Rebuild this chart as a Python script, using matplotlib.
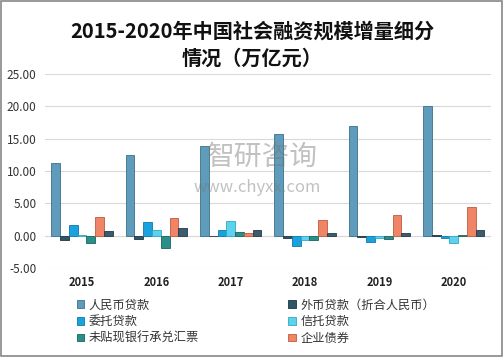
import matplotlib.pyplot as plt
import numpy as np

plt.rcParams['font.family'] = ['Noto Sans CJK SC', 'DejaVu Sans']

# data (万亿元)
years = ['2015', '2016', '2017', '2018', '2019', '2020']
rmb_loans = [11.27, 12.44, 13.84, 15.67, 16.88, 20.03]
fx_loans = [-0.64, -0.57, 0.00, -0.42, -0.13, 0.15]
entrusted = [1.59, 2.19, 0.81, -1.60, -0.94, -0.40]
trust = [0.04, 0.86, 2.26, -0.70, -0.35, -1.10]
bank_bills = [-1.06, -1.95, 0.54, -0.63, -0.48, 0.10]
bonds = [2.94, 2.78, 0.45, 2.48, 3.24, 4.45]
stocks = [0.76, 1.24, 0.87, 0.36, 0.35, 0.89]

series = [rmb_loans, fx_loans, entrusted, trust, bank_bills, bonds, stocks]
names = ['人民币贷款', '外币贷款（折合人民币）', '委托贷款', '信托贷款',
         '未贴现银行承兑汇票', '企业债券', None]
colors = ['#5f9cbb', '#2f5569', '#1aa2df', '#5cd3ee', '#2a8f88', '#ef8466', '#3d5b6f']
edges = ['#3e6f88', '#1d3644', '#0f78a8', '#34a7c2', '#1b625d', '#c05a3d', '#243a48']

fig = plt.figure(figsize=(5.04, 3.57), dpi=100)
ax = fig.add_axes([0.089, 0.249, 0.885, 0.544])

x = np.arange(len(years))
w = 0.118
handles = []
for i, vals in enumerate(series):
    b = ax.bar(x + (i - 3) * w, vals, w, color=colors[i], edgecolor=edges[i],
               linewidth=0.6, zorder=3)
    if names[i]:
        handles.append((b, names[i]))

ax.set_ylim(-5, 25)
ax.set_xlim(-0.5, 5.5)
ax.set_yticks(np.arange(-5, 26, 5))
ax.set_yticklabels(['%.2f' % v for v in np.arange(-5, 26, 5)], fontsize=8.5, color='#333333')
ax.set_xticks(x)
ax.set_xticklabels(years, fontsize=8, fontweight='bold', color='#222222')
ax.tick_params(length=0, pad=6)
ax.grid(axis='y', color='#d9d9d9', linewidth=0.8, zorder=0)
for s in ax.spines.values():
    s.set_visible(False)
ax.axhline(0, color='#d9d9d9', linewidth=0.8, zorder=1)

fig.text(0.5, 0.875, '2015-2020年中国社会融资规模增量细分\n情况（万亿元）',
         ha='center', va='center', fontsize=14.5, fontweight='bold',
         linespacing=1.35, color='#111111')

# watermark
fig.text(0.52, 0.56, '智研咨询', ha='center', va='center', fontsize=20,
         color='#777777', alpha=0.45)
fig.text(0.51, 0.475, 'www.chyxx.com', ha='center', va='center', fontsize=12,
         color='#777777', alpha=0.45)

# legend (row order as in reference)
order = [0, 2, 4, 1, 3, 5]
leg = fig.legend([handles[k][0] for k in order], [handles[k][1] for k in order],
                 ncol=2, loc='upper left', bbox_to_anchor=(0.14, 0.181),
                 frameon=False, fontsize=8.8, handlelength=0.6, handleheight=0.6,
                 handletextpad=0.4, columnspacing=7.3, labelspacing=0.3,
                 borderpad=0)
for t in leg.get_texts():
    t.set_color('#333333')

fig.patches.append(plt.Rectangle((0.002, 0.003), 0.994, 0.993, transform=fig.transFigure,
                                 fill=False, edgecolor='#888888', linewidth=1.2))

fig.savefig('out.png', dpi=100)
